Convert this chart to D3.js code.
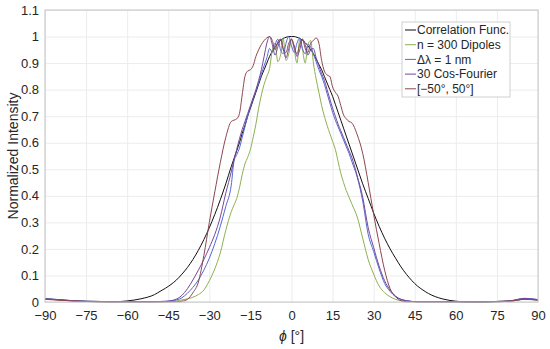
<!DOCTYPE html>
<html>
<head>
<meta charset="utf-8">
<script src="https://cdn.jsdelivr.net/npm/d3@7"></script>
<style>
  body { margin: 0; background: #fff; }
  text { font-family: "Liberation Sans", Arial, sans-serif; }
</style>
</head>
<body>
<div id="chart"></div>
<script>
// angle grid (deg) shared by all series
const phi = [-90,-85,-80,-75,-70,-65,-60,-55,-50,
  -48,-46,-44,-42,-40,-38,-36,-34,-32,-30,-28,-26,-24,-22,
  -21,-20,-19,-18,-17,-16,-15,-14,-13,-12,-11,-10,-9,-8,-7,-6,-5,-4,-3,-2,-1,
  0,
  1,2,3,4,5,6,7,8,9,10,11,12,13,14,15,16,17,18,19,20,21,
  22,24,26,28,30,32,34,36,38,40,42,44,46,48,
  50,55,60,65,70,75,80,85,90];

const corrFunc = [0.012,0.008,0.004,0.002,0.001,0.001,0.004,0.012,0.028,
  0.04,0.052,0.066,0.083,0.105,0.13,0.16,0.195,0.235,0.28,0.33,0.385,0.445,0.51,
  0.54,0.57,0.6,0.635,0.665,0.7,0.73,0.76,0.79,0.82,0.85,0.875,0.9,0.925,0.945,0.96,0.975,0.985,0.993,0.997,1.0,
  1.0,
  1.0,0.997,0.993,0.986,0.977,0.965,0.95,0.935,0.915,0.895,0.875,0.85,0.825,0.8,0.775,0.745,0.715,0.685,0.655,0.625,0.595,
  0.565,0.505,0.445,0.39,0.335,0.285,0.24,0.2,0.165,0.132,0.104,0.08,0.06,0.045,
  0.032,0.012,0.003,0,0,0.001,0.003,0.01,0.008];

const dipoles = [0.012,0.008,0.005,0.003,0.002,0.001,0.001,0.001,0.001,
  0.001,0.001,0.002,0.004,0.008,0.012,0.018,0.028,0.045,0.08,0.125,0.185,0.27,0.34,
  0.365,0.39,0.43,0.48,0.52,0.545,0.575,0.62,0.67,0.73,0.78,0.82,0.85,0.88,0.95,0.975,0.905,0.93,0.99,0.91,0.935,
  0.99,
  0.95,0.9,0.99,0.95,0.9,0.97,0.985,0.9,0.84,0.79,0.74,0.7,0.665,0.635,0.605,0.575,0.53,0.485,0.45,0.42,0.395,
  0.37,0.32,0.24,0.16,0.105,0.06,0.035,0.02,0.01,0.005,0.003,0.002,0.001,0.001,
  0.001,0.001,0.001,0.001,0.001,0.002,0.004,0.012,0.008];

const deltaLambda = [0.012,0.009,0.005,0.003,0.002,0.001,0.001,0.001,0.001,
  0.001,0.002,0.004,0.008,0.016,0.033,0.055,0.083,0.12,0.165,0.22,0.285,0.36,0.44,
  0.53,0.555,0.58,0.62,0.66,0.7,0.735,0.765,0.795,0.825,0.86,0.89,0.92,0.955,0.94,0.97,0.99,0.95,0.935,0.975,1.0,
  0.965,
  0.94,0.975,0.995,0.955,0.935,0.97,0.96,0.935,0.905,0.875,0.85,0.82,0.785,0.75,0.715,0.685,0.66,0.635,0.61,0.585,0.56,
  0.53,0.47,0.38,0.255,0.19,0.125,0.07,0.04,0.02,0.01,0.005,0.002,0.001,0.001,
  0.001,0.001,0.001,0.001,0.001,0.002,0.004,0.014,0.009];

const cosFourier = [0.013,0.009,0.005,0.003,0.002,0.001,0.001,0.001,0.001,
  0.002,0.003,0.005,0.011,0.025,0.05,0.083,0.12,0.16,0.205,0.255,0.32,0.41,0.49,
  0.535,0.575,0.615,0.65,0.68,0.71,0.74,0.77,0.8,0.835,0.875,0.925,0.975,1.0,0.97,0.93,0.96,0.99,0.955,0.92,0.955,
  0.99,
  0.965,0.925,0.95,0.99,0.97,0.93,0.95,0.955,0.92,0.89,0.86,0.835,0.8,0.765,0.73,0.7,0.67,0.645,0.62,0.595,0.57,
  0.545,0.475,0.395,0.28,0.205,0.135,0.08,0.045,0.022,0.01,0.005,0.002,0.001,0.001,
  0.001,0.001,0.001,0.001,0.001,0.002,0.005,0.013,0.009];

const range50 = [0.01,0.007,0.004,0.002,0.001,0.001,0.001,0.001,0.001,
  0.001,0.001,0.001,0.001,0.003,0.01,0.035,0.075,0.175,0.3,0.415,0.525,0.62,0.68,
  0.685,0.69,0.71,0.78,0.85,0.87,0.875,0.89,0.925,0.95,0.97,0.985,0.995,1.0,0.985,0.95,0.98,0.99,0.95,0.94,0.975,
  0.99,
  0.96,0.935,0.97,0.99,0.955,0.94,0.975,0.985,0.995,0.975,0.91,0.87,0.855,0.85,0.81,0.79,0.775,0.74,0.705,0.69,0.68,
  0.675,0.63,0.56,0.45,0.33,0.22,0.12,0.05,0.02,0.005,0.001,0.001,0.001,0.001,
  0.001,0.001,0.001,0.001,0.001,0.002,0.004,0.01,0.007];

const seriesNames = ["Correlation Func.", "n = 300 Dipoles", "\u0394\u03bb = 1 nm", "30 Cos-Fourier", "[\u221250\u00b0, 50\u00b0]"];
const seriesColors = ["#111111", "#8db052", "#5468d4", "#74499a", "#8c4650"];
const seriesValues = [corrFunc, dipoles, deltaLambda, cosFourier, range50];

const xTicks = [-90,-75,-60,-45,-30,-15,0,15,30,45,60,75,90];
const yTicks = [0,0.1,0.2,0.3,0.4,0.5,0.6,0.7,0.8,0.9,1,1.1];

const width = 550, height = 349;
const margin = { top: 10, right: 12, bottom: 47, left: 45 };
const innerW = width - margin.left - margin.right;
const innerH = height - margin.top - margin.bottom;

const svg = d3.select("#chart").append("svg")
  .attr("width", width)
  .attr("height", height);

const g = svg.append("g").attr("transform", `translate(${margin.left},${margin.top})`);

const x = d3.scaleLinear().domain([-90, 90]).range([0, innerW]);
const y = d3.scaleLinear().domain([0, 1.1]).range([innerH, 0]);

// grid
g.append("g")
  .attr("class", "grid")
  .attr("transform", `translate(0,${innerH})`)
  .call(d3.axisBottom(x).tickValues(xTicks).tickSize(-innerH).tickFormat(""))
  .call(a => a.select(".domain").remove())
  .call(a => a.selectAll("line").attr("stroke", "#ececec"));

g.append("g")
  .attr("class", "grid")
  .call(d3.axisLeft(y).tickValues(yTicks).tickSize(-innerW).tickFormat(""))
  .call(a => a.select(".domain").remove())
  .call(a => a.selectAll("line").attr("stroke", "#ececec"));

// lines
const line = d3.line()
  .x((d, i) => x(phi[i]))
  .y(d => y(d))
  .curve(d3.curveMonotoneX);

seriesValues.forEach((vals, k) => {
  g.append("path")
    .datum(vals)
    .attr("fill", "none")
    .attr("stroke", seriesColors[k])
    .attr("stroke-width", 1)
    .attr("d", line);
});

// box
g.append("rect")
  .attr("width", innerW).attr("height", innerH)
  .attr("fill", "none").attr("stroke", "#c4c4c4");

// axes labels
const fmtX = d => d < 0 ? "\u2212" + Math.abs(d) : d;
g.append("g")
  .attr("transform", `translate(0,${innerH})`)
  .call(d3.axisBottom(x).tickValues(xTicks).tickSize(0).tickPadding(9).tickFormat(fmtX))
  .call(a => a.select(".domain").remove())
  .call(a => a.selectAll("text").attr("fill", "#262626").style("font-size", "13px"));

g.append("g")
  .call(d3.axisLeft(y).tickValues(yTicks).tickSize(0).tickPadding(6).tickFormat(d => d3.format("")(+d.toFixed(1))))
  .call(a => a.select(".domain").remove())
  .call(a => a.selectAll("text").attr("fill", "#262626").style("font-size", "13px"));

svg.append("text")
  .attr("transform", `translate(18,${margin.top + innerH / 2}) rotate(-90)`)
  .attr("text-anchor", "middle")
  .attr("fill", "#262626")
  .style("font-size", "14px")
  .text("Normalized Intensity");

const xl = svg.append("text")
  .attr("x", margin.left + innerW / 2)
  .attr("y", 341)
  .attr("text-anchor", "middle")
  .attr("fill", "#262626")
  .style("font-size", "14px");
xl.append("tspan").style("font-style", "italic").text("\u03d5");
xl.append("tspan").text(" [\u00b0]");

// legend
const legend = svg.append("g").attr("transform", "translate(402,22)");
legend.append("rect")
  .attr("width", 108).attr("height", 75)
  .attr("fill", "#fff").attr("stroke", "#d0d0d0");

seriesNames.forEach((name, k) => {
  const row = legend.append("g").attr("transform", `translate(0,${8 + k * 14.7})`);
  row.append("line")
    .attr("x1", 3).attr("x2", 14)
    .attr("stroke", seriesColors[k]).attr("stroke-width", 1);
  row.append("text")
    .attr("x", 15)
    .attr("dy", "0.35em")
    .attr("fill", "#262626")
    .style("font-size", "12px")
    .text(name);
});
</script>
</body>
</html>
